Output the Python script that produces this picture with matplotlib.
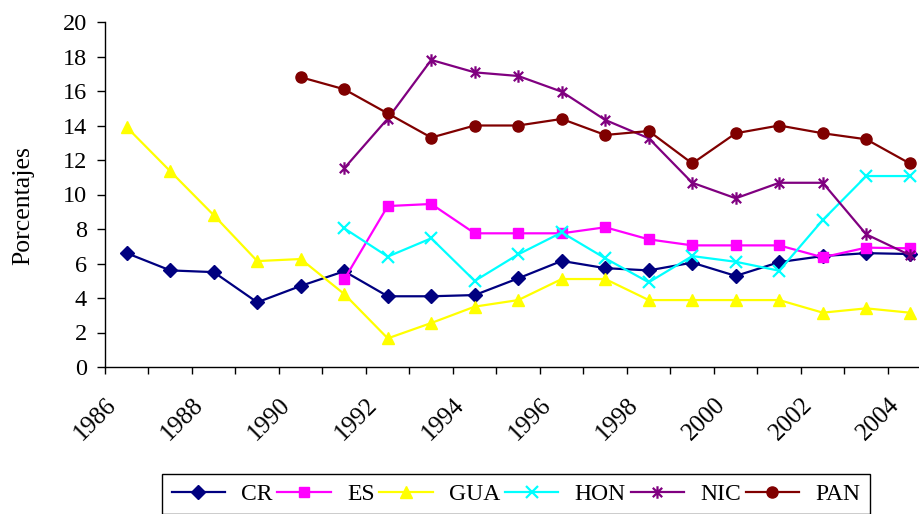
import numpy as np
import matplotlib
matplotlib.use("Agg")
import matplotlib.pyplot as plt
from matplotlib.path import Path
from matplotlib.transforms import ScaledTranslation

plt.rcParams['font.family'] = ['Liberation Serif', 'DejaVu Serif']

years = list(range(1986, 2005))
nan = np.nan

cr = [6.6, 5.6, 5.5, 3.75, 4.7, 5.55, 4.1, 4.1, 4.17, 5.14, 6.15, 5.73,
      5.6, 6.05, 5.28, 6.08, 6.43, 6.6, 6.55]
es = [nan, nan, nan, nan, nan, 5.08, 9.33, 9.45, 7.75, 7.75, 7.75, 8.1,
      7.4, 7.05, 7.05, 7.05, 6.36, 6.92, 6.88]
gua = [13.9, 11.35, 8.8, 6.14, 6.26, 4.23, 1.66, 2.55, 3.5, 3.88, 5.1, 5.1,
       3.88, 3.88, 3.88, 3.88, 3.15, 3.4, 3.15]
hon = [nan, nan, nan, nan, nan, 8.04, 6.4, 7.46, 4.99, 6.53, 7.8, 6.3,
       4.91, 6.43, 6.1, 5.58, 8.52, 11.07, 11.07]
nic = [nan, nan, nan, nan, nan, 11.52, 14.4, 17.8, 17.08, 16.87, 15.96, 14.32,
       13.26, 10.68, 9.78, 10.68, 10.68, 7.69, 6.49]
pan = [nan, nan, nan, nan, 16.8, 16.1, 14.7, 13.3, 14.0, 14.0, 14.38, 13.45,
       13.68, 11.8, 13.55, 14.0, 13.55, 13.2, 11.8]

names = ['CR', 'ES', 'GUA', 'HON', 'NIC', 'PAN']

# asterisk marker: x plus a vertical bar
star = Path([(0, -1), (0, 1), (-0.75, -0.75), (0.75, 0.75), (-0.75, 0.75), (0.75, -0.75)],
            [Path.MOVETO, Path.LINETO, Path.MOVETO, Path.LINETO, Path.MOVETO, Path.LINETO])

styles = [
    dict(color='#000080', marker='D', ms=7),
    dict(color='#FF00FF', marker='s', ms=7.5),
    dict(color='#FFFF00', marker='^', ms=9),
    dict(color='#00FFFF', marker='x', ms=9, mew=1.6),
    dict(color='#800080', marker=star, ms=9, mew=1.6, mfc='none'),
    dict(color='#800000', marker='o', ms=8),
]

fig = plt.figure(figsize=(9.2, 5.14), dpi=100)
ax = fig.add_axes([105 / 920, 147 / 514, 826.5 / 920, 345 / 514])

x = np.arange(len(years))
for name, vals, st in zip(names, [cr, es, gua, hon, nic, pan], styles):
    ax.plot(x, vals, label=name, lw=1.6, **st)

ax.set_xlim(-0.5, len(years) - 0.5)
ax.set_ylim(0, 20)
ax.set_yticks(range(0, 21, 2))
ax.tick_params(axis='y', labelsize=17.5, length=6, width=1, pad=7)

ax.set_xticks(np.arange(-0.5, len(years), 1))
ax.set_xticklabels([])
ax.tick_params(axis='x', which='major', length=5, width=1)
ax.set_xticks(x[::2], minor=True)
ax.set_xticklabels([str(y) for y in years[::2]], minor=True, rotation=45,
                   ha='right', va='top', fontsize=18)
ax.tick_params(axis='x', which='minor', length=0, pad=19)
off = ScaledTranslation(-6 / 100, 0, fig.dpi_scale_trans)
for lab in ax.get_xticklabels(minor=True):
    lab.set_transform(lab.get_transform() + off)

for s in ['top', 'right']:
    ax.spines[s].set_visible(False)
for s in ['left', 'bottom']:
    ax.spines[s].set_linewidth(1)

ax.set_ylabel('Porcentajes', fontsize=18.5)
ax.yaxis.set_label_coords(-0.085, 0.467)

leg = fig.legend(loc='upper center', bbox_to_anchor=(516 / 920, 1 - 474 / 514),
                 ncol=6, fontsize=17, frameon=True, fancybox=False,
                 edgecolor='black', framealpha=1, handlelength=2.25,
                 handletextpad=0.7, columnspacing=0.2, borderpad=0.4,
                 borderaxespad=0)
leg.get_frame().set_linewidth(1)

fig.savefig('out.png', dpi=100)
